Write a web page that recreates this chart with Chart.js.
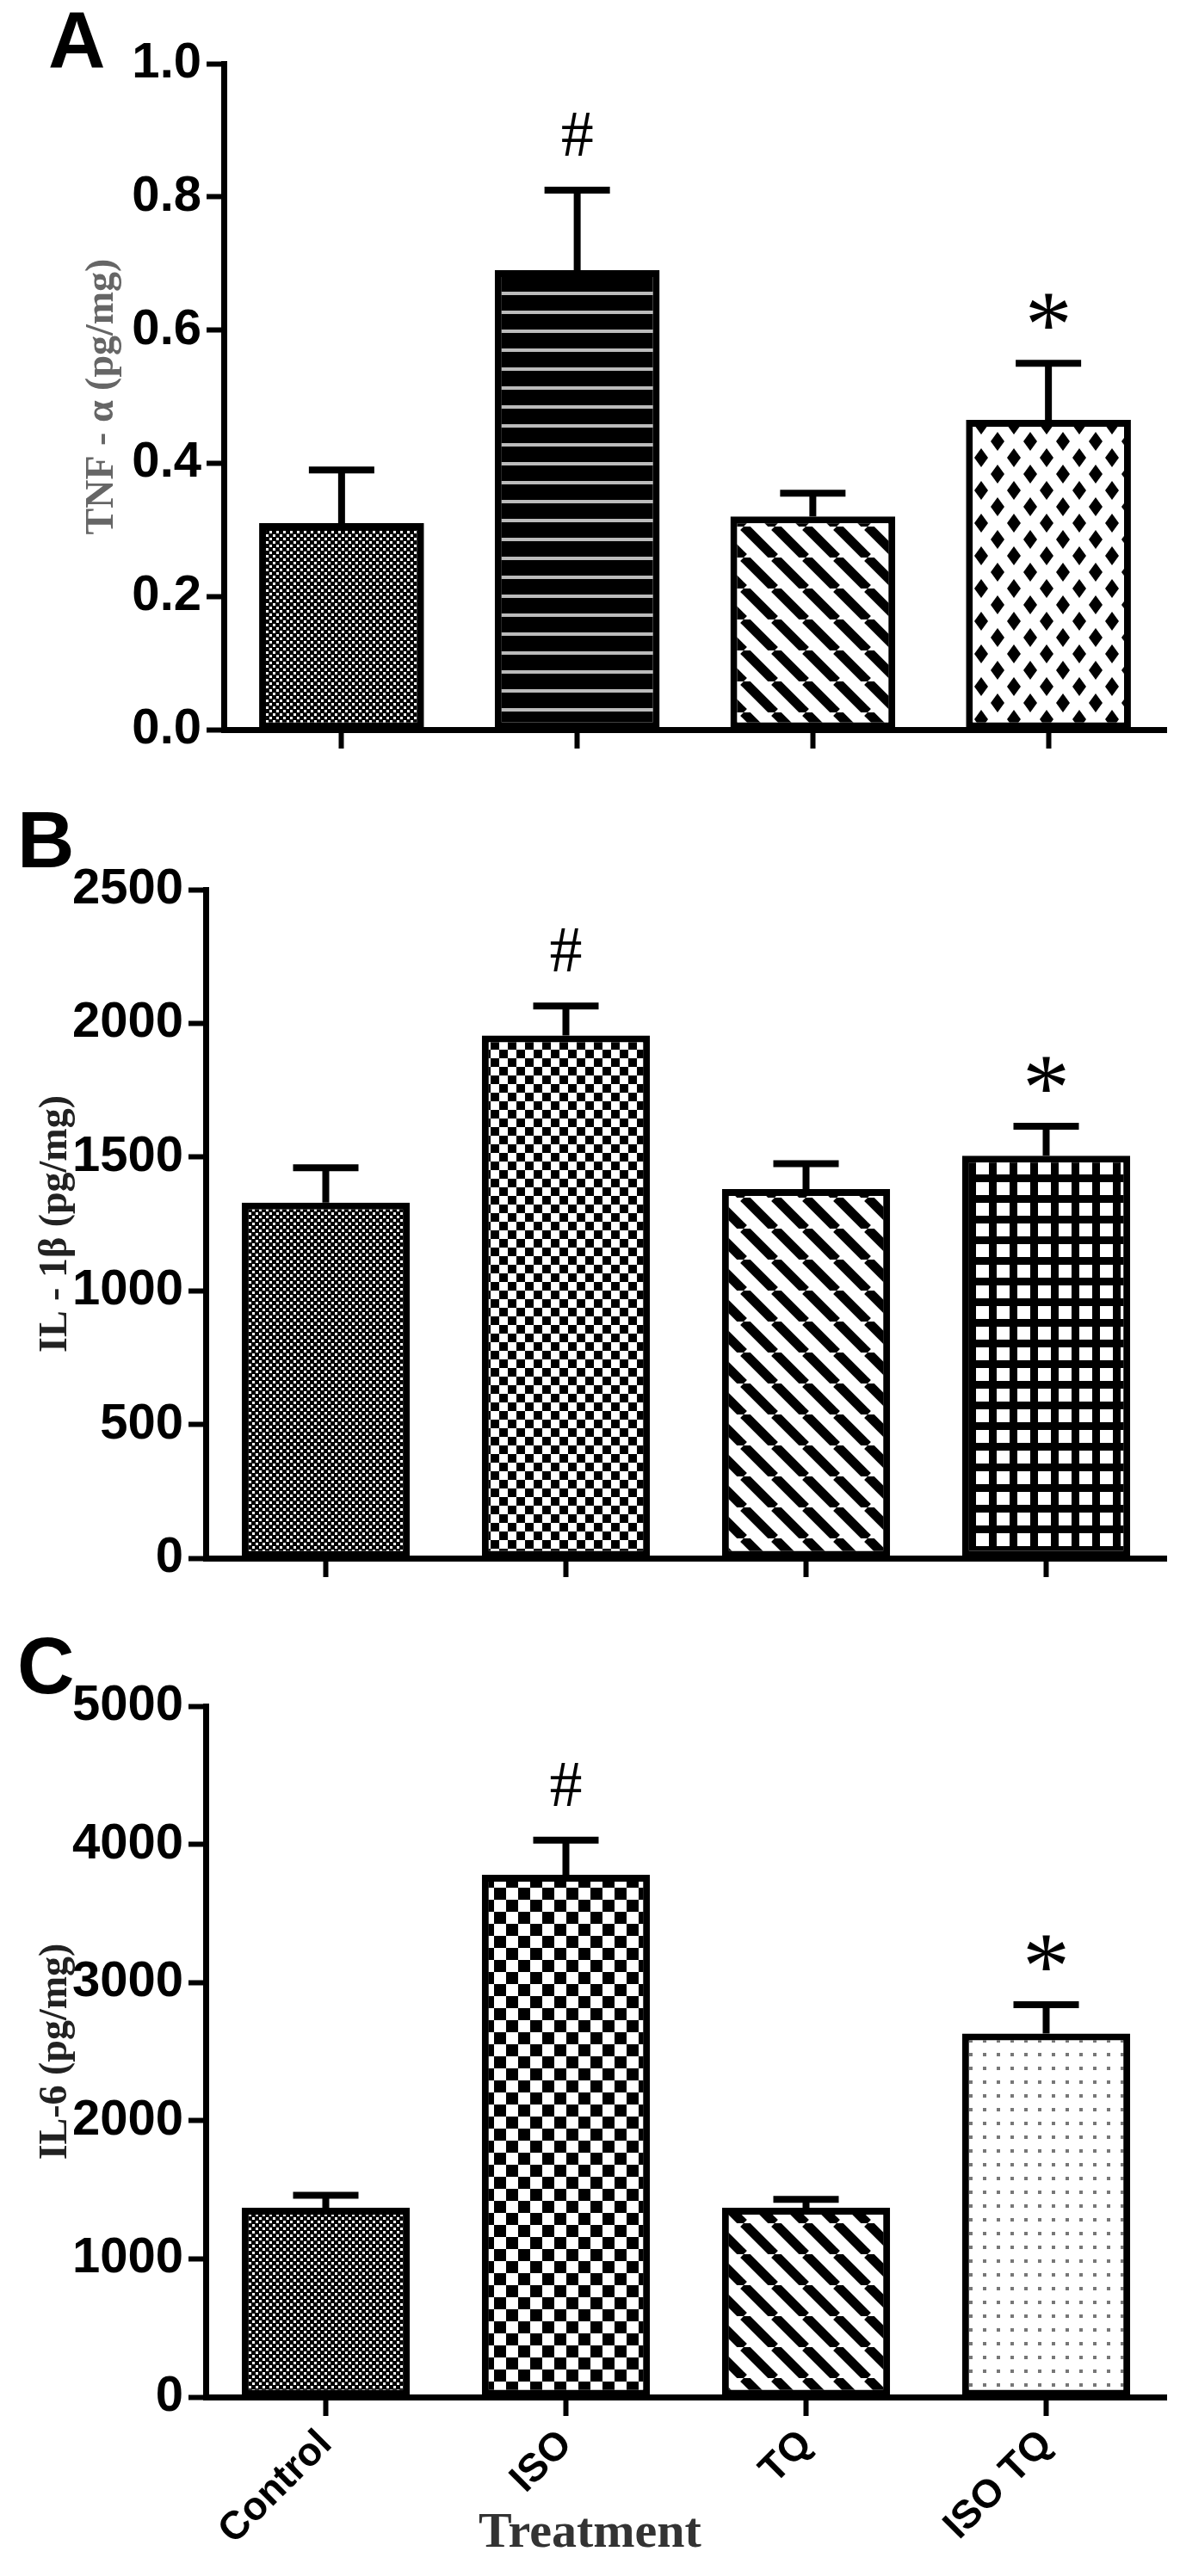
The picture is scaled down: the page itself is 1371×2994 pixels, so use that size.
<!DOCTYPE html>
<html><head><meta charset="utf-8">
<script src="https://cdn.jsdelivr.net/npm/chart.js@4"></script>
<style>
body{margin:0;background:#fff;width:1371px;height:2994px;position:relative;overflow:hidden}
canvas{position:absolute;left:0}
.lbl{position:absolute;font-family:"Liberation Sans",Arial,sans-serif;font-weight:bold;font-size:92px;line-height:1;color:#000}
#tt{position:absolute;left:0;width:1371px;text-align:center;top:2912px;font-family:"Liberation Serif","Times New Roman",serif;font-weight:bold;font-size:58px;line-height:1;color:#333}
</style></head><body>
<canvas id="cA" width="1371" height="900" style="top:0"></canvas>
<canvas id="cB" width="1371" height="900" style="top:960px"></canvas>
<canvas id="cC" width="1371" height="1060" style="top:1900px"></canvas>
<div class="lbl" style="left:56px;top:0px">A</div>
<div class="lbl" style="left:20px;top:930px">B</div>
<div class="lbl" style="left:20px;top:1890px">C</div>
<div id="tt">Treatment</div>
<script>
const categories = ["Control","ISO","TQ","ISO TQ"];
const tnfValues = [0.31, 0.69, 0.32, 0.465];
const tnfErrTop = [0.39, 0.81, 0.355, 0.55];
const il1Values = [1330, 1955, 1380, 1505];
const il1ErrTop = [1460, 2065, 1475, 1615];
const il6Values = [1370, 3780, 1370, 2630];
const il6ErrTop = [1460, 4030, 1430, 2840];
const marks = ["", "#", "", "*"];

function pat(size, draw){const c=document.createElement('canvas');c.width=c.height=size;const g=c.getContext('2d');draw(g,size);return g.createPattern(c,'repeat');}
const P={
 fineDots:()=>pat(8,(g,s)=>{g.fillStyle='#000';g.fillRect(0,0,s,s);g.fillStyle='#fff';g.fillRect(1,1,3,3);g.fillRect(5,5,3,3);}),
 hLines:()=>pat(22,(g,s)=>{g.fillStyle='#000';g.fillRect(0,0,s,s);g.fillStyle='#bbb';g.fillRect(0,9,s,4);}),
 diag:()=>pat(36,(g,s)=>{g.fillStyle='#fff';g.fillRect(0,0,s,s);g.strokeStyle='#000';g.lineWidth=11;for(let k=-1;k<=1;k++){g.beginPath();g.moveTo(k*s,0);g.lineTo(k*s+s,s);g.stroke();}}),
 diamonds:()=>pat(38,(g,s)=>{g.fillStyle='#fff';g.fillRect(0,0,s,s);g.fillStyle='#000';const d=(x,y)=>{g.beginPath();g.moveTo(x,y-11);g.lineTo(x+8,y);g.lineTo(x,y+11);g.lineTo(x-8,y);g.closePath();g.fill();};d(s/2,s/2);d(0,0);d(s,0);d(0,s);d(s,s);}),
 checker:(n)=>pat(n*2,(g,s)=>{g.fillStyle='#fff';g.fillRect(0,0,s,s);g.fillStyle='#000';g.fillRect(0,0,n,n);g.fillRect(n,n,n,n);}),
 grid:()=>pat(24,(g,s)=>{g.fillStyle='#000';g.fillRect(0,0,s,s);g.fillStyle='#fff';g.fillRect(6,6,15,15);}),
 sparse:()=>pat(16,(g,s)=>{g.fillStyle='#fff';g.fillRect(0,0,s,s);g.fillStyle='#777';g.fillRect(6,6,4,4);})
};

const errPlugin={id:'err',afterDatasetsDraw(ch){
 const c=ch.ctx, meta=ch.getDatasetMeta(0), y=ch.scales.y, tops=ch.options.plugins.err.tops;
 c.save();c.strokeStyle='#000';c.lineWidth=8;c.fillStyle='#000';c.textAlign='center';c.textBaseline='bottom';
 meta.data.forEach((b,i)=>{const yt=y.getPixelForValue(tops[i]);
  c.beginPath();c.moveTo(b.x,b.y);c.lineTo(b.x,yt);c.moveTo(b.x-38,yt);c.lineTo(b.x+38,yt);c.stroke();
  const m=marks[i]; if(m){c.font=m==='#'?'76px "Liberation Serif",serif':'110px "Liberation Serif",serif';c.fillText(m,b.x,yt-(m==='#'?22:-18));}
 });c.restore();}};

function make(id,vals,tops,pats,max,step,title,titleColor,axisLeft,top,bottom,canvasH,showX,dec,titleOff){
 new Chart(document.getElementById(id),{type:'bar',
  data:{labels:categories,datasets:[{data:vals,backgroundColor:pats,borderColor:'#000',borderWidth:8,borderSkipped:false,barPercentage:0.7,categoryPercentage:1}]},
  options:{responsive:false,animation:false,
   layout:{padding:{top:top,right:16,bottom:0,left:0}},
   plugins:{legend:{display:false},tooltip:{enabled:false},err:{tops:tops}},
   scales:{
    x:{grid:{display:true,offset:false,drawOnChartArea:false,tickLength:22,tickWidth:6,tickColor:'#000'},border:{color:'#000',width:7},
       ticks:{display:showX,maxRotation:45,minRotation:45,color:'#000',font:{family:'"Liberation Sans",Arial,sans-serif',weight:'bold',size:46},padding:6},
       afterFit:s=>{s.height=canvasH-bottom;}},
    y:{min:0,max:max,ticks:{stepSize:step,color:'#000',padding:6,font:{family:'"Liberation Sans Narrow","Liberation Sans",Arial,sans-serif',weight:'bold',size:58},callback:v=>dec?v.toFixed(1):v},
       grid:{drawOnChartArea:false,tickLength:20,tickWidth:6,tickColor:'#000'},border:{color:'#000',width:7},
       title:{display:true,text:title,color:titleColor,padding:{top:titleOff,bottom:0},font:{family:'"Liberation Serif","Times New Roman",serif',weight:'bold',size:46}},
       afterFit:s=>{s.width=axisLeft;}}
   }},plugins:[errPlugin]});
}
make('cA',tnfValues,tnfErrTop,[P.fineDots(),P.hLines(),P.diag(),P.diamonds()],1,0.2,'TNF - α (pg/mg)','#666',260,74,848,900,false,true,92);
make('cB',il1Values,il1ErrTop,[P.fineDots(),P.checker(10),P.diag(),P.grid()],2500,500,'IL - 1β (pg/mg)','#222',239,74,851,900,false,false,38);
make('cC',il6Values,il6ErrTop,[P.fineDots(),P.checker(14),P.diag(),P.sparse()],5000,1000,'IL-6 (pg/mg)','#222',239,83,886,1060,true,false,38);
</script></body></html>
